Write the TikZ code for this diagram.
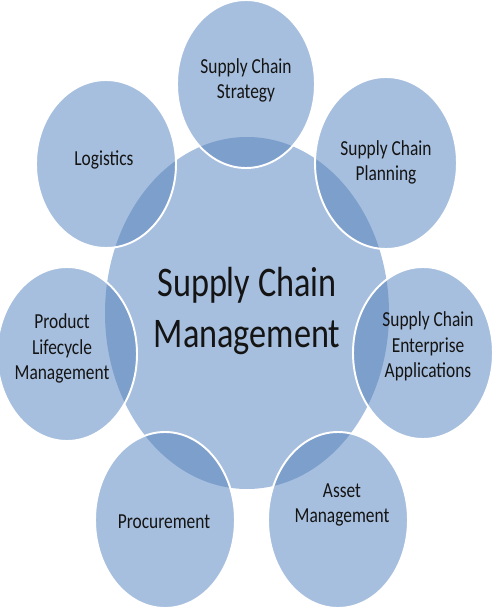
\documentclass[tikz,border=0pt]{standalone}
\usepackage{fontspec}
\setmainfont{Carlito}
\usepackage{graphicx}
\definecolor{base}{HTML}{A7BFDE}
\definecolor{lens}{HTML}{7D9FCC}
\definecolor{ink}{HTML}{141414}
\newcommand\tx[1]{\scalebox{1}[1.23]{\begin{tabular}{@{}c@{}}#1\end{tabular}}}
\begin{document}
\begin{tikzpicture}[x=0.02cm,y=-0.02cm,
  lbl/.style={inner sep=0pt, text=ink, font=\fontsize{9.9}{11.6}\selectfont},
  big/.style={inner sep=0pt, text=ink, font=\fontsize{19.5}{23.2}\selectfont},
  rim/.style={draw=white, line width=1.1pt}]
\useasboundingbox (0,0) rectangle (500,612);
% central circle
\fill[base] (247,313) ellipse [x radius=142, y radius=176];
% outer circles
\foreach \x/\y/\rx/\ry in {246/84/69/84, 106/164/70/84, 386/163/71/86, 67/354/70/87, 423/353/70/86, 165/520/70/88, 338/520/70/88}
  \fill[base] (\x,\y) ellipse [x radius=\rx, y radius=\ry];
% overlaps
\begin{scope}
  \clip (247,313) ellipse [x radius=142, y radius=176];
  \foreach \x/\y/\rx/\ry in {246/84/69/84, 106/164/70/84, 386/163/71/86, 67/354/70/87, 423/353/70/86, 165/520/70/88, 338/520/70/88}
    \fill[lens] (\x,\y) ellipse [x radius=\rx, y radius=\ry];
\end{scope}
% white rims
\foreach \x/\y/\rx/\ry in {246/84/69/84, 106/164/70/84, 386/163/71/86, 67/354/70/87, 423/353/70/86, 165/520/70/88, 338/520/70/88}
  \draw[rim] (\x,\y) ellipse [x radius=\rx, y radius=\ry];
% labels
\node[big] (scm) at (247,312) {\tx{Supply Chain\\Management}};
\node[lbl] (strat) at (246,81) {\tx{Supply Chain\\Strategy}};
\node[lbl] (logi) at (104,160) {\tx{Logistics}};
\node[lbl] (plan) at (386,163) {\tx{Supply Chain\\Planning}};
\node[lbl] (plm) at (62,349) {\tx{Product\\Lifecycle\\Management}};
\node[lbl] (scea) at (428,347) {\tx{Supply Chain\\Enterprise\\Applications}};
\node[lbl] (proc) at (164,523) {\tx{Procurement}};
\node[lbl] (asset) at (342,505) {\tx{Asset\\Management}};
\end{tikzpicture}
\end{document}
